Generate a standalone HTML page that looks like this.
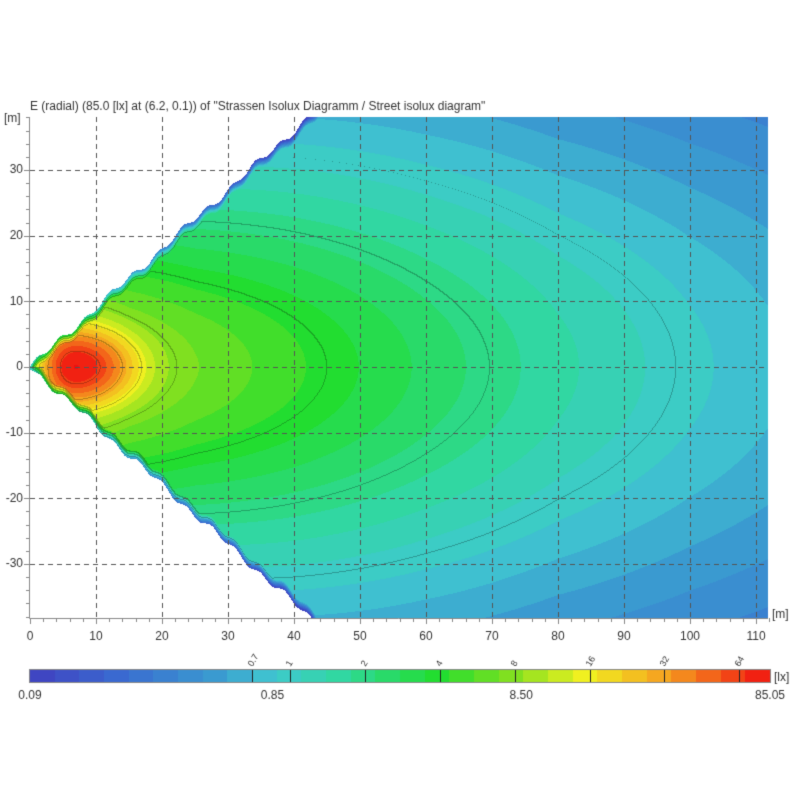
<!DOCTYPE html>
<html><head><meta charset="utf-8"><style>
body{margin:0;background:#fff;width:800px;height:800px;overflow:hidden;font-family:"Liberation Sans",sans-serif;}
#c{position:absolute;left:0;top:0;}
</style></head><body>
<canvas id="c" width="800" height="800"></canvas>
<script>
const cv=document.getElementById('c'),ctx=cv.getContext('2d');
const L=30,R=768,T=117,B=618,X0=30,SX=6.6,Y0=367,SY=6.567;
const lmin=Math.log10(0.09),lmax=Math.log10(85.05);
const stops=[[0,[64,64,192]],[0.12,[58,106,208]],[0.25,[58,154,208]],[0.33,[64,200,208]],[0.42,[48,216,160]],[0.55,[34,221,48]],[0.65,[128,224,32]],[0.75,[240,240,32]],[0.86,[245,160,32]],[1,[240,16,16]]];
function cmap(t){t=Math.max(0,Math.min(1,t));t=(Math.floor(t*30)+0.5)/30;
for(let i=1;i<stops.length;i++){if(t<=stops[i][0]){const a=stops[i-1],b=stops[i],f=(t-a[0])/(b[0]-a[0]);return a[1].map((v,k)=>Math.round(v+(b[1][k]-v)*f));}}return stops[stops.length-1][1];}
const pts=[[0,3],[4,12],[8,14],[15,10],[25,7],[40,4.6],[60,2.6],[80,1.5],[100,0.95],[115,0.7]];
function E0(x){for(let i=1;i<pts.length;i++){if(x<=pts[i][0]){const a=pts[i-1],b=pts[i],f=(x-a[0])/(b[0]-a[0]);return Math.pow(10,Math.log10(a[1])+f*(Math.log10(b[1])-Math.log10(a[1])));}}return 0.7;}
function bnd(x,y){return 0.9*x+0.4*Math.sin(x*1.7+(y>0?0:2))+0.3*Math.sin(x*0.6);}
function E(x,y){const w=0.3*x+12;const u=y/w;let e=E0(x)*Math.pow(1+u*u,-1.5);
const dx=x-6.8;e+=72*Math.exp(-Math.pow(dx/(dx>0?6.5:4),2)-Math.pow(y/4.3,2));
const b=bnd(x,y);const d=b-Math.abs(y);if(d<0)return null;if(d<1.3)e*=Math.pow(0.1,(1.3-d)/1.3);return e;}
const W=R-L,H=B-T;const img=ctx.createImageData(W,H);const lv=new Float32Array(W*H);
for(let j=0;j<H;j++){for(let i=0;i<W;i++){const x=(L+i+0.5-X0)/SX,y=(Y0-(T+j+0.5))/SY;const e=E(x,y);const k=(j*W+i)*4;
if(e===null){img.data[k]=img.data[k+1]=img.data[k+2]=255;img.data[k+3]=255;lv[j*W+i]=-99;continue;}
const l=Math.log10(Math.max(e,0.05));lv[j*W+i]=Math.floor(Math.log2(e));const c=cmap((l-lmin)/(lmax-lmin));img.data[k]=c[0];img.data[k+1]=c[1];img.data[k+2]=c[2];img.data[k+3]=255;}}
for(let j=1;j<H;j++)for(let i=1;i<W;i++){const a=lv[j*W+i];if(a<-1)continue;if((lv[j*W+i-1]!==a&&lv[j*W+i-1]>-1)||(lv[(j-1)*W+i]!==a&&lv[(j-1)*W+i]>-1)){const k=(j*W+i)*4;for(let q=0;q<3;q++)img.data[k+q]=Math.round(img.data[k+q]*0.75);}}
ctx.putImageData(img,L,T);
ctx.strokeStyle='#555';ctx.lineWidth=1;ctx.setLineDash([5,4]);
for(let m=10;m<=110;m+=10){const px=Math.round(X0+m*SX)+0.5;ctx.beginPath();ctx.moveTo(px,T);ctx.lineTo(px,B);ctx.stroke();}
for(let m=-30;m<=30;m+=10){const py=Math.round(Y0-m*SY)+0.5;ctx.beginPath();ctx.moveTo(L,py);ctx.lineTo(R,py);ctx.stroke();}
ctx.setLineDash([]);ctx.strokeStyle='#888';
ctx.beginPath();ctx.moveTo(L-0.5,T);ctx.lineTo(L-0.5,B+0.5);ctx.lineTo(R,B+0.5);ctx.stroke();
ctx.fillStyle='#333';ctx.font='12px "Liberation Sans",sans-serif';
ctx.beginPath();
for(let m=0;m<=112;m+=2){const px=Math.round(X0+m*SX)+0.5;ctx.moveTo(px,B);ctx.lineTo(px,B+(m%10?4:6));}
for(let m=-38;m<=38;m+=2){const py=Math.round(Y0-m*SY)+0.5;ctx.moveTo(L,py);ctx.lineTo(L-(m%10?4:6),py);}
ctx.stroke();
ctx.textAlign='center';ctx.textBaseline='top';
for(let m=0;m<=110;m+=10)ctx.fillText(String(m),X0+m*SX,B+13);
ctx.textAlign='right';ctx.textBaseline='middle';
for(let m=-30;m<=30;m+=10)ctx.fillText(String(m),L-7,Y0-m*SY);
ctx.textAlign='left';ctx.textBaseline='alphabetic';
ctx.fillText('[m]',4,122);ctx.fillText('[m]',772,618);
ctx.fillText('E (radial) (85.0 [lx] at (6.2, 0.1)) of "Strassen Isolux Diagramm / Street isolux diagram"',30,110);
const CL=30,CR=770,CT=670,CB=682;
for(let i=0;i<CR-CL;i++){const c=cmap((i+0.5)/(CR-CL));ctx.fillStyle=`rgb(${c})`;ctx.fillRect(CL+i,CT,1,CB-CT);}
ctx.strokeStyle='#888';ctx.strokeRect(CL-0.5,CT-0.5,CR-CL+1,CB-CT+1);
ctx.strokeStyle='#222';ctx.fillStyle='#333';
[[0.7,'0.7'],[1,'1'],[2,'2'],[4,'4'],[8,'8'],[16,'16'],[32,'32'],[64,'64']].forEach(([v,s])=>{const px=Math.round(CL+(Math.log10(v)-lmin)/(lmax-lmin)*(CR-CL))+0.5;ctx.beginPath();ctx.moveTo(px,CT);ctx.lineTo(px,CB);ctx.stroke();
ctx.save();ctx.translate(px,CT-3);ctx.rotate(-Math.PI/3);ctx.font='9px "Liberation Sans",sans-serif';ctx.fillText(s,0,0);ctx.restore();});
ctx.font='12px "Liberation Sans",sans-serif';ctx.fillText('[lx]',774,681);
ctx.textAlign='center';ctx.textBaseline='top';
[[0.09,'0.09'],[0.85,'0.85'],[8.5,'8.50'],[85.05,'85.05']].forEach(([v,s])=>{const px=CL+(Math.log10(v)-lmin)/(lmax-lmin)*(CR-CL);ctx.fillText(s,px,690);});
</script>
</body></html>
